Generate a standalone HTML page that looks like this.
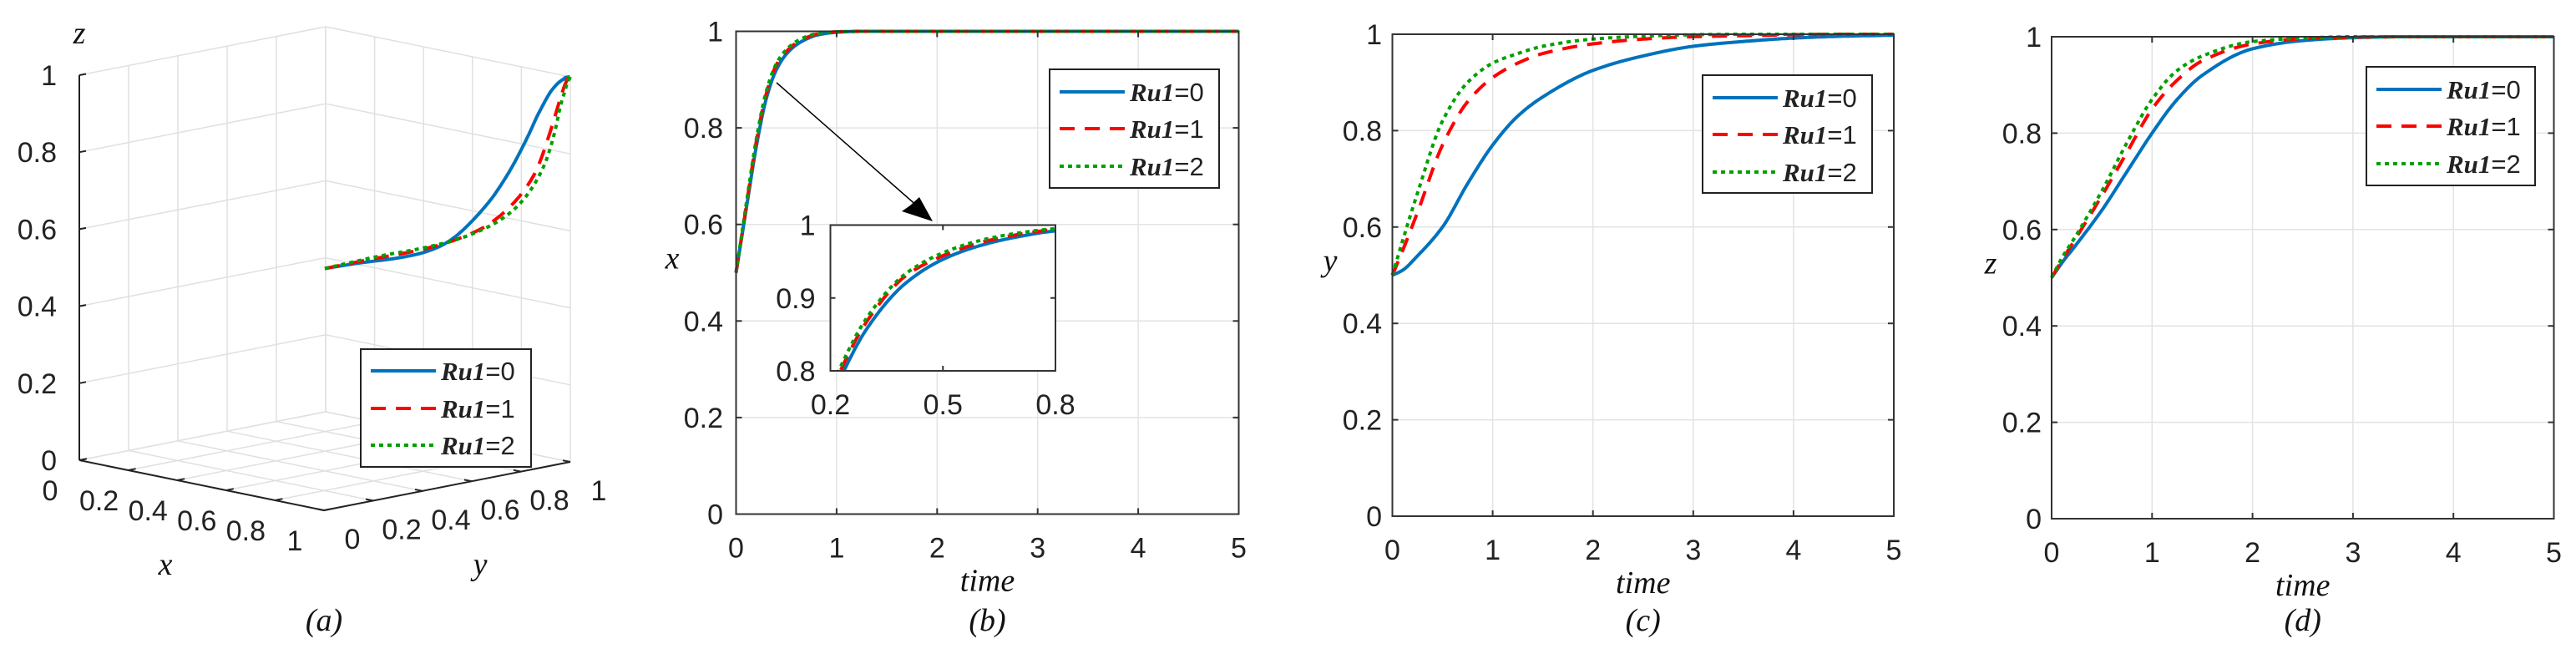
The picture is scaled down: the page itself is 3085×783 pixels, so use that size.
<!DOCTYPE html>
<html><head><meta charset="utf-8">
<style>
html,body{margin:0;padding:0;background:#fff;}
svg{display:block;}
text{font-family:"Liberation Sans",sans-serif;fill:#222;}
.tick{font-size:34px;}
.it{font-family:"Liberation Serif",serif;font-style:italic;font-size:38px;fill:#111;}
.leg{font-size:31px;}
.legi{font-family:"Liberation Serif",serif;font-style:italic;font-weight:bold;}
</style></head>
<body>
<svg id="fig" width="3085" height="783" viewBox="0 0 3085 783" xmlns="http://www.w3.org/2000/svg">
<g id="pa"></g>
<g id="pb"></g>
<g id="pc"></g>
<g id="pd"></g>
</svg>
<script>
// ---- data ----
const seriesNames = ["Ru1=0","Ru1=1","Ru1=2"];
const tB = [0,0.1,0.2,0.3,0.4,0.5,0.6,0.7,0.8,1,1.25,1.5,2,2.5,3,3.5,4,4.5,5];
const x0 = [0.5,0.63,0.76,0.86,0.92,0.953,0.972,0.984,0.992,0.998,1,1,1,1,1,1,1,1,1];
const x1 = [0.5,0.635,0.77,0.87,0.93,0.958,0.976,0.987,0.994,0.999,1,1,1,1,1,1,1,1,1];
const x2 = [0.5,0.64,0.775,0.875,0.933,0.962,0.979,0.989,0.995,0.999,1,1,1,1,1,1,1,1,1];
const tCD = [0,0.1,0.25,0.5,0.75,1,1.25,1.5,2,2.5,3,3.5,4,4.5,5];
const y0 = [0.5,0.51,0.54,0.6,0.69,0.77,0.83,0.87,0.925,0.955,0.975,0.985,0.992,0.996,0.998];
const y1 = [0.5,0.55,0.63,0.77,0.86,0.91,0.94,0.96,0.98,0.99,0.995,0.997,0.999,1,1];
const y2 = [0.5,0.57,0.67,0.82,0.9,0.94,0.96,0.975,0.99,0.996,0.999,1,1,1,1];
const z0 = [0.5,0.53,0.57,0.64,0.72,0.8,0.87,0.92,0.975,0.992,0.998,1,1,1,1];
const z1 = [0.5,0.535,0.585,0.67,0.76,0.85,0.91,0.95,0.985,0.996,0.999,1,1,1,1];
const z2 = [0.5,0.54,0.59,0.68,0.78,0.87,0.93,0.96,0.99,0.997,1,1,1,1,1];
const timeTicks = [0,1,2,3,4,5];
const valTicks = [0,0.2,0.4,0.6,0.8,1];
const insetXTicks = [0.2,0.5,0.8];
const insetYTicks = [0.8,0.9,1];
const unitTicks = [0,0.2,0.4,0.6,0.8,1];

const NS="http://www.w3.org/2000/svg";
const colors=["#0072BD","#FF0000","#00A000"];
const dashes=["none","18,12","5,5"];
function el(parent,tag,attrs,txt){const e=document.createElementNS(NS,tag);for(const k in attrs)e.setAttribute(k,attrs[k]);if(txt!==undefined)e.textContent=txt;parent.appendChild(e);return e;}
// monotone cubic (Fritsch-Carlson) interpolation for smooth curves
function interp(ts,vs,t){
  const n=ts.length;
  if(t<=ts[0])return vs[0]; if(t>=ts[n-1])return vs[n-1];
  let i=1;while(t>ts[i])i++;
  const d=[];for(let k=0;k<n-1;k++)d.push((vs[k+1]-vs[k])/(ts[k+1]-ts[k]));
  const m=k=>{if(k===0)return d[0];if(k===n-1)return d[n-2];if(d[k-1]*d[k]<=0)return 0;const w1=2*(ts[k+1]-ts[k])+(ts[k]-ts[k-1]),w2=(ts[k+1]-ts[k])+2*(ts[k]-ts[k-1]);return (w1+w2)/(w1/d[k-1]+w2/d[k]);};
  const h=ts[i]-ts[i-1],s=(t-ts[i-1])/h;
  const h00=2*s*s*s-3*s*s+1,h10=s*s*s-2*s*s+s,h01=-2*s*s*s+3*s*s,h11=s*s*s-s*s;
  return h00*vs[i-1]+h10*h*m(i-1)+h01*vs[i]+h11*h*m(i);
}

function legend(g,x0_,y0_,w,h,rows){
  const lg=el(g,'g',{});
  
  
  el(lg,'rect',{x:x0_,y:y0_,width:w,height:h,fill:'#fff',stroke:'#222','stroke-width':2});
  for(let i=0;i<3;i++){
    const ry=y0_+rows[i];
    const e=el(lg,'g',{});
    
    
    el(e,'line',{x1:x0_+12,x2:x0_+90,y1:ry,y2:ry,stroke:colors[i],'stroke-width':4,'stroke-dasharray':dashes[i]});
    const t=el(e,'text',{x:x0_+96,y:ry+11,class:'leg'});
    el(t,'tspan',{class:'legi'},'Ru1');
    el(t,'tspan',{},'='+i);
  }
}

function timePanel(g,L,R,T,B,ts,series,yLabel,yLabelX,tickRight,caption,legBox){
  const sx=t=>L+(t/5)*(R-L), sy=v=>B-v*(B-T);
  el(g,'rect',{x:L,y:T,width:R-L,height:B-T,fill:'#fff'});
  timeTicks.forEach(t=>{el(g,'line',{x1:sx(t),x2:sx(t),y1:T,y2:B,stroke:'#e3e3e3','stroke-width':1.5});});
  valTicks.forEach(v=>{el(g,'line',{x1:L,x2:R,y1:sy(v),y2:sy(v),stroke:'#e3e3e3','stroke-width':1.5});});
  series.forEach((vs,i)=>{
    const pts=[];for(let k=0;k<=400;k++){const t=5*k/400;pts.push(sx(t).toFixed(1)+','+sy(interp(ts,vs,t)).toFixed(1));}
    const p=el(g,'polyline',{points:pts.join(' '),fill:'none',stroke:colors[i],'stroke-width':4,'stroke-dasharray':dashes[i]});
    
    
  });
  el(g,'rect',{x:L,y:T,width:R-L,height:B-T,fill:'none',stroke:'#333','stroke-width':2});
  timeTicks.forEach(t=>{
    el(g,'line',{x1:sx(t),x2:sx(t),y1:B,y2:B-7,stroke:'#333','stroke-width':2});
    el(g,'line',{x1:sx(t),x2:sx(t),y1:T,y2:T+7,stroke:'#333','stroke-width':2});
    el(g,'text',{x:sx(t),y:B+52,class:'tick','text-anchor':'middle'},String(t));
  });
  valTicks.forEach(v=>{
    el(g,'line',{x1:L,x2:L+7,y1:sy(v),y2:sy(v),stroke:'#333','stroke-width':2});
    el(g,'line',{x1:R,x2:R-7,y1:sy(v),y2:sy(v),stroke:'#333','stroke-width':2});
    el(g,'text',{x:tickRight,y:sy(v)+12,class:'tick','text-anchor':'end'},String(v));
  });
  const xl=el(g,'text',{x:(L+R)/2,y:B+92,class:'it','text-anchor':'middle'},'time');
  
  
  const yl=el(g,'text',{x:yLabelX,y:(T+B)/2-5,class:'it','text-anchor':'middle'},yLabel);
  
  
  const cp=el(g,'text',{x:(L+R)/2,y:755,class:'it','text-anchor':'middle'},caption);
  
  
  legend(g,legBox[0],legBox[1],legBox[2],legBox[3],legBox[4]);
  return {sx,sy};
}

// Panel b
const gb=document.getElementById('pb');
timePanel(gb,881.5,1483.5,37.5,615.5,tB,[x0,x1,x2],'x',805,866,'(b)',[1257,83,203,142,[27,71,116]]);
el(gb,'line',{x1:930,y1:99,x2:1100,y2:248,stroke:'#000','stroke-width':1.5});
el(gb,'polygon',{points:'1117,265 1080,253 1090,246 1101,236',fill:'#000'});
// inset
(function(){
  const L=994.5,R=1264,T=269.5,B=444;
  const sx=t=>L+(t-0.2)/0.6*(R-L), sy=v=>B-(v-0.8)/0.2*(B-T);
  const ig=el(gb,'g',{});
  
  
  el(ig,'rect',{x:L,y:T,width:R-L,height:B-T,fill:'#fff'});
  el(ig,'defs',{}).innerHTML='<clipPath id="ic"><rect x="'+L+'" y="'+T+'" width="'+(R-L)+'" height="'+(B-T)+'"/></clipPath>';
  [x0,x1,x2].forEach((vs,i)=>{
    const pts=[];for(let k=0;k<=150;k++){const t=0.2+0.6*k/150;pts.push(sx(t).toFixed(1)+','+sy(interp(tB,vs,t)).toFixed(1));}
    el(ig,'polyline',{points:pts.join(' '),fill:'none',stroke:colors[i],'stroke-width':4,'stroke-dasharray':dashes[i],'clip-path':'url(#ic)'});
  });
  el(ig,'rect',{x:L,y:T,width:R-L,height:B-T,fill:'none',stroke:'#333','stroke-width':2});
  insetXTicks.forEach(t=>{el(ig,'line',{x1:sx(t),x2:sx(t),y1:B,y2:B-6,stroke:'#333','stroke-width':2});el(ig,'line',{x1:sx(t),x2:sx(t),y1:T,y2:T+6,stroke:'#333','stroke-width':2});el(ig,'text',{x:sx(t),y:B+52,class:'tick','text-anchor':'middle'},String(t));});
  insetYTicks.forEach(v=>{el(ig,'line',{x1:L,x2:L+6,y1:sy(v),y2:sy(v),stroke:'#333','stroke-width':2});el(ig,'line',{x1:R,x2:R-6,y1:sy(v),y2:sy(v),stroke:'#333','stroke-width':2});el(ig,'text',{x:L-18,y:sy(v)+12,class:'tick','text-anchor':'end'},String(v));});
})();

// Panel c, d
timePanel(document.getElementById('pc'),1667.5,2268,41,618,tCD,[y0,y1,y2],'y',1593,1655,'(c)',[2039,90,203,141,[27,71,116]]);
timePanel(document.getElementById('pd'),2457,3058.5,44,621,tCD,[z0,z1,z2],'z',2384,2445,'(d)',[2834,80,202,142,[27,71,116]]);

// Panel a (3D)
(function(){
  const g=document.getElementById('pa');
  const P=(x,y,z)=>[95+x*293+y*295, 551+x*60-y*58-z*461];
  const line=(a,b,st,w)=>el(g,'line',{x1:a[0],y1:a[1],x2:b[0],y2:b[1],stroke:st,'stroke-width':w});
  const gc='#e0e0e0';
  unitTicks.forEach(v=>{
    line(P(0,v,0),P(0,v,1),gc,1.5); line(P(0,0,v),P(0,1,v),gc,1.5);
    line(P(v,1,0),P(v,1,1),gc,1.5); line(P(0,1,v),P(1,1,v),gc,1.5);
    line(P(v,0,0),P(v,1,0),gc,1.5); line(P(0,v,0),P(1,v,0),gc,1.5);
  });
  line(P(0,0,0),P(0,0,1),'#222',2);
  line(P(0,0,0),P(1,0,0),'#222',2);
  line(P(1,0,0),P(1,1,0),'#222',2);
  unitTicks.forEach(v=>{
    const a=P(0,0,v);line(a,[a[0]+8,a[1]-1.5],'#222',2);
    el(g,'text',{x:68,y:a[1]+12,class:'tick','text-anchor':'end'},String(v));
    const b=P(v,0,0);line(b,[b[0]+9,b[1]-1.8],'#222',2);
    el(g,'text',{x:b[0]-35,y:b[1]+48,class:'tick','text-anchor':'middle'},String(v));
    const c=P(1,v,0);line(c,[c[0]-9,c[1]-1.8],'#222',2);
    el(g,'text',{x:c[0]+34,y:c[1]+46,class:'tick','text-anchor':'middle'},String(v));
  });
  el(g,'text',{x:198,y:688,class:'it','text-anchor':'middle'},'x');
  el(g,'text',{x:575,y:688,class:'it','text-anchor':'middle'},'y');
  el(g,'text',{x:95,y:52,class:'it','text-anchor':'middle'},'z');
  el(g,'text',{x:388,y:755,class:'it','text-anchor':'middle'},'(a)');
  const XS=[x0,x1,x2],YS=[y0,y1,y2],ZS=[z0,z1,z2];
  for(let i=0;i<3;i++){
    const pts=[];for(let k=0;k<=400;k++){const t=5*k/400;const p=P(interp(tB,XS[i],t),interp(tCD,YS[i],t),interp(tCD,ZS[i],t));pts.push(p[0].toFixed(1)+','+p[1].toFixed(1));}
    const pl=el(g,'polyline',{points:pts.join(' '),fill:'none',stroke:colors[i],'stroke-width':4,'stroke-dasharray':dashes[i]});
    
    
  }
  legend(g,432,418,204,141,[26,71,115]);
})();
</script>
</body></html>
